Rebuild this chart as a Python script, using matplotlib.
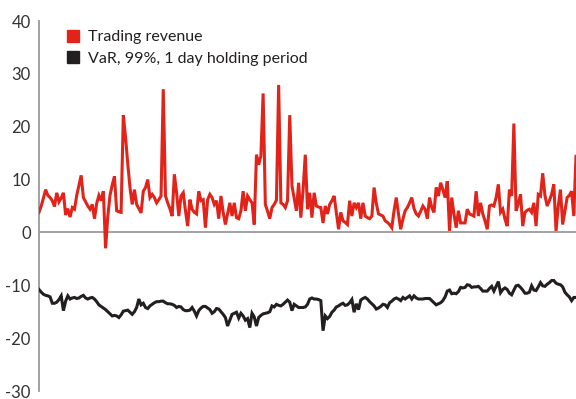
import matplotlib.pyplot as plt
from matplotlib.lines import Line2D

plt.rcParams['font.family'] = ['Lato', 'DejaVu Sans']
plt.rcParams['axes.unicode_minus'] = False

# daily trading revenue (CHF m)
revenue = [
    3.8, 5.0, 6.5, 8.1, 7.0, 6.6, 6.0, 4.9, 7.5, 5.8, 6.5, 7.5, 3.3,
    4.5, 2.9, 4.7, 4.4, 7.0, 8.9, 10.8, 6.6, 5.8, 5.0,
    4.4, 5.3, 2.6, 5.5, 7.0, 6.0, 7.8, -3.0, 3.0, 7.0,
    9.0, 10.6, 4.1, 3.9, 3.8, 22.2, 18.0, 13.0, 8.5,
    5.3, 8.1, 5.3, 4.5, 3.7, 7.8, 8.5, 10.0, 6.6,
    7.2, 6.6, 5.6, 6.2, 6.9, 27.1, 6.9, 5.6, 4.5,
    3.1, 11.0, 7.5, 3.1, 6.9, 7.5, 4.1, 1.2, 6.2, 4.4,
    3.8, 3.5, 7.8, 6.0, 6.2, 0.9, 6.2, 7.2, 6.6, 5.3,
    6.0, 2.6, 6.9, 3.8, 1.5, 3.5, 5.6, 3.1, 5.6, 2.8,
    2.6, 4.1, 7.8, 4.1, 6.9, 6.2, 5.6, 1.5, 14.7, 12.8,
    14.5, 26.3, 5.3, 4.0, 2.6, 4.7, 5.3, 6.1,
    27.9, 5.6, 5.3, 4.7, 6.0, 22.2, 8.8, 6.5, 4.1,
    9.4, 2.8, 8.0, 14.7, 4.4, 7.5, 2.8, 7.5, 5.0, 4.8,
    4.7, 1.8, 5.0, 3.5, 5.3, 6.0, 6.9, 3.8, 0.6, 3.8, 2.2,
    1.9, 1.5, 6.0, 3.1, 5.6, 4.7, 5.6, 2.6, 5.6, 3.1,
    2.8, 2.6, 3.1, 8.5, 5.5, 3.5, 3.3, 3.1, 2.2, 1.9, 1.5,
    0.9, 4.1, 6.6, 3.5, 0.6, 2.5, 4.1, 4.7, 5.6, 6.6,
    4.5, 3.5, 3.1, 4.0, 5.0, 4.4, 2.6, 6.6, 4.7, 3.8, 8.5,
    6.9, 9.4, 8.1, 6.6, 9.7, 0.3, 6.6, 3.5, 0.9, 4.1,
    1.8, 1.8, 1.8, 4.4, 3.5, 3.3, 3.1, 7.8, 3.1, 5.6,
    3.5, 2.2, 0.6, 5.0, 5.2, 5.0, 6.6, 9.1, 3.8, 4.4, 2.5,
    1.2, 8.1, 6.9, 20.6, 4.1, 5.5, 7.2, 1.2, 3.8, 4.2,
    4.4, 3.8, 5.6, 1.2, 7.2, 6.9, 11.2, 7.0, 5.0, 6.0, 7.2,
    9.1, 0.3, 5.0, 8.1, 1.5, 4.0, 6.6, 7.0, 7.8, 3.1, 14.4,
]

# value at risk, 99%, 1 day holding period (CHF m)
var_99 = [
    -10.8, -11.3, -11.7, -11.9, -12.0, -12.2, -13.4, -13.4, -13.2, -12.7,
    -12.0, -14.8, -13.0, -12.0, -12.6, -12.4, -12.3, -12.5, -12.4, -12.1,
    -11.9, -12.4, -12.6, -12.4, -12.3, -12.6, -13.1, -13.7, -14.0, -14.3,
    -14.6, -15.0, -15.4, -15.8, -15.7, -15.8, -16.1, -15.6, -14.9, -14.8,
    -14.7, -15.1, -15.5, -15.0, -14.2, -12.6, -13.7, -13.4, -14.2, -14.4,
    -13.9, -13.6, -13.3, -13.1, -13.1, -13.0, -13.0, -13.3, -13.5, -13.5,
    -13.6, -13.8, -14.2, -14.0, -14.1, -14.6, -14.8, -14.8, -14.7, -14.2,
    -14.9, -15.8, -14.8, -14.3, -14.0, -14.0, -14.3, -14.6, -15.3, -15.0,
    -14.4, -14.5, -15.0, -15.5, -16.1, -17.7, -16.6, -15.5, -15.3, -15.1,
    -16.2, -15.3, -15.8, -16.6, -16.3, -18.0, -15.3, -16.0, -17.7, -16.1,
    -15.7, -15.4, -15.3, -15.2, -15.0, -13.9, -14.1, -13.6, -13.8, -13.9,
    -13.6, -13.2, -12.8, -13.2, -14.8, -13.6, -13.9, -14.2, -14.2, -14.2,
    -14.1, -13.6, -12.6, -12.4, -12.6, -12.6, -12.7, -12.9, -18.6, -15.8,
    -16.3, -15.9, -15.1, -14.7, -14.1, -13.9, -13.6, -13.4, -13.8, -13.7,
    -13.3, -12.7, -15.1, -13.5, -14.6, -12.8, -12.5, -12.3, -12.6, -13.1,
    -13.5, -13.9, -14.5, -14.3, -14.0, -13.6, -13.7, -14.2, -13.3, -13.0,
    -12.6, -12.4, -12.6, -12.9, -12.3, -12.6, -12.3, -12.0, -12.6, -12.0,
    -12.4, -12.6, -12.6, -12.6, -12.5, -12.5, -12.5, -12.9, -13.3, -13.7,
    -13.5, -13.3, -12.9, -12.2, -11.1, -10.9, -11.6, -11.5, -11.6, -11.2,
    -10.4, -10.5, -10.4, -9.9, -10.0, -10.4, -10.3, -10.3, -10.2, -10.6,
    -11.1, -11.1, -11.1, -10.6, -10.2, -11.1, -10.2, -9.3, -11.4, -10.8,
    -10.5, -10.8, -11.5, -11.8, -10.9, -10.1, -10.0, -10.4, -10.9, -11.5,
    -11.5, -11.3, -10.1, -10.9, -11.0, -10.3, -9.5, -10.1, -10.2, -9.8,
    -9.5, -9.1, -9.1, -9.6, -9.8, -9.9, -10.3, -11.3, -11.8, -12.2,
    -12.9, -12.3, -12.3,
]

series_labels = ['Trading revenue', 'VaR, 99%, 1 day holding period']
yticks = [-30, -20, -10, 0, 10, 20, 30, 40]

red = '#e2231a'
dark = '#231f20'
grey = '#9a9a9a'

fig = plt.figure(figsize=(5.76, 3.99), dpi=100)
ax = fig.add_axes([39 / 576, 8 / 399, 1 - 39 / 576, 370 / 399])

days = range(len(revenue))
ax.plot(days, revenue, color=red, lw=2.2, solid_joinstyle='miter', zorder=3)
ax.plot(range(len(var_99)), var_99, color=dark, lw=2.2, solid_joinstyle='miter', zorder=3)
ax.axhline(0, color=grey, lw=1.3, zorder=2)

ax.set_xlim(0, len(revenue) - 1)
ax.set_ylim(-30, 40)
ax.set_yticks(yticks)
ax.set_yticklabels([str(t) for t in yticks])
ax.set_xticks([])
ax.tick_params(axis='y', length=0, pad=6, labelsize=12, labelcolor='#333333')

for side in ['top', 'right', 'bottom']:
    ax.spines[side].set_visible(False)
ax.spines['left'].set_color(grey)
ax.spines['left'].set_linewidth(1.3)

handles = [Line2D([], [], marker='s', linestyle='none', markersize=8, color=c)
           for c in (red, dark)]
fig.legend(handles, series_labels, loc='upper left',
           bbox_to_anchor=(66 / 576, 1 - 30 / 399), frameon=False,
           borderpad=0, borderaxespad=0, handlelength=0.9, handletextpad=0.45,
           labelspacing=0.45, fontsize=11.5, labelcolor='#231f20')

fig.savefig('out.png', dpi=100)
